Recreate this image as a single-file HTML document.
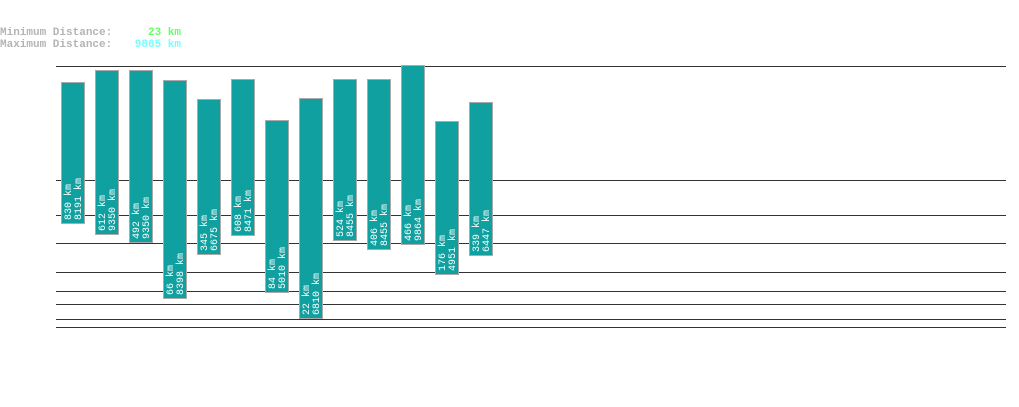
<!DOCTYPE html>
<html><head><meta charset="utf-8"><style>
body{margin:0;background:#fff;width:1019px;height:402px;overflow:hidden}
svg text{font-family:"Liberation Mono","DejaVu Sans Mono",monospace}
</style></head><body>
<svg width="1019" height="402">
<text x="0" y="35" font-size="11" font-weight="bold" fill="#b4b4b4">Minimum Distance:</text>
<text x="181" y="35" font-size="11" fill="#66ff66" text-anchor="end" font-weight="bold">23 km</text>
<text x="0" y="47" font-size="11" font-weight="bold" fill="#b4b4b4">Maximum Distance:</text>
<text x="181" y="47" font-size="11" fill="#77ffff" text-anchor="end" font-weight="bold">9865 km</text>
<g id="grid"></g>
<g id="bars"></g>
</svg>
<script>
const minDist=[830,612,492,66,345,608,84,22,524,406,466,176,339];
const maxDist=[8191,9350,9350,8398,6675,8471,5010,6810,8455,8455,9864,4951,6447];
const gridVals=[66,180,215,243,272,291,304,319,327];
const NS="http://www.w3.org/2000/svg";
function yTop(v){return 257.6-1.94*Math.sqrt(v);}
function yBot(v){return 382.7-29.8*Math.pow(v,0.25);}
function xBar(i){return 61+34*i;}
const grid=document.getElementById('grid'),bars=document.getElementById('bars');
gridVals.forEach(y=>{
 const l=document.createElementNS(NS,'line');
 l.setAttribute('x1',56);l.setAttribute('x2',1006);l.setAttribute('y1',y+0.5);l.setAttribute('y2',y+0.5);
 l.setAttribute('stroke','#333');
 
 
 grid.appendChild(l);
});
minDist.forEach((mn,i)=>{
 const mx=maxDist[i],x=xBar(i),t=Math.round(yTop(mx)),b=Math.round(yBot(mn));
 const r=document.createElementNS(NS,'rect');
 r.setAttribute('x',x+0.5);r.setAttribute('y',t+0.5);r.setAttribute('width',23);r.setAttribute('height',b-t);
 r.setAttribute('fill','#10a0a0');r.setAttribute('stroke','#aaa');
 
 
 bars.appendChild(r);
 [[mn,x+10],[mx,x+20]].forEach(([v,tx])=>{
  const tt=document.createElementNS(NS,'text');
  tt.setAttribute('transform','translate('+tx+','+(b-3)+') rotate(-90)');
  tt.setAttribute('font-size','10');tt.setAttribute('fill','#fff');
  tt.textContent=v+' km';
  
  
  bars.appendChild(tt);
 });
});
</script>
</body></html>
